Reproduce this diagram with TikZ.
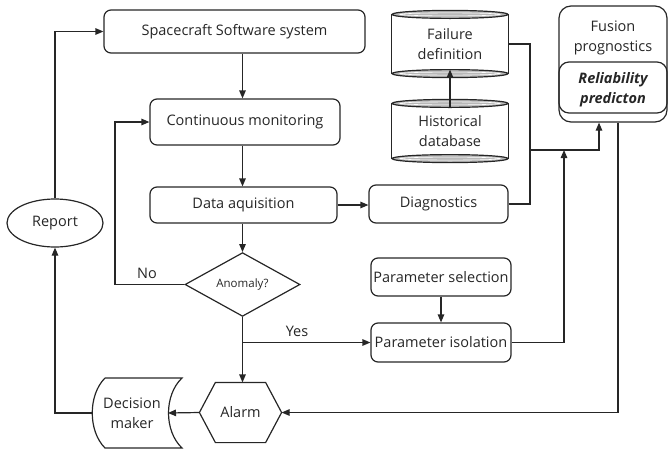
\documentclass[tikz,border=0pt]{standalone}
\usepackage{fontspec}
\setmainfont{Open Sans}
\usetikzlibrary{arrows.meta,shapes.geometric}
\newcommand\drumdeco[1]{%
  \draw (#1.north west) -- (#1.south west);
  \draw (#1.north east) -- (#1.south east);
  \draw[fill=gray!55] (#1.north) ellipse [x radius=58, y radius=4];
  \draw[white, line width=0.6pt] (#1.north) ellipse [x radius=50, y radius=1.5];
  \draw[fill=gray!55] (#1.south) ellipse [x radius=58, y radius=4];
  \draw[white, line width=0.6pt] (#1.south) ellipse [x radius=50, y radius=1.5];
}
\begin{document}
\begin{tikzpicture}[x=1pt,y=-1pt,
  line width=1.2pt, color=black!85,
  txt/.style={font=\fontsize{14.5}{20}\selectfont, align=center},
  box/.style={txt, draw, rounded corners=7pt, inner sep=0pt},
  arr/.style={-{Triangle[length=8pt,width=6.5pt]}}]
\useasboundingbox (0,0) rectangle (668,450);
% nodes
\node[box, minimum width=261pt, minimum height=43pt] (ss) at (234.5,31.5) {Spacecraft Software system};
\node[box, minimum width=190pt, minimum height=46pt] (cm) at (245,122) {Continuous monitoring};
\node[box, minimum width=187pt, minimum height=36pt] (da) at (243.5,205) {Data aquisition};
\node[txt, draw, diamond, inner sep=0pt, minimum width=115pt, minimum height=47pt, font=\fontsize{11.5}{13}\selectfont] (an) at (242.5,284.5) {Anomaly?};
\node[txt, draw=none, minimum width=81pt, minimum height=59pt, inner sep=0pt] (al) at (240.5,412.5) {Alarm};
\draw (al.west) -- ([xshift=16pt]al.north west) -- ([xshift=-16pt]al.north east) -- (al.east)
  -- ([xshift=-16pt]al.south east) -- ([xshift=16pt]al.south west) -- cycle;
\node[txt] (dm) at (132,413) {Decision\\maker};
\draw (105,378) -- (182,378) .. controls (164,395) and (164,431) .. (182,448) -- (105,448)
  .. controls (88,431) and (88,395) .. (105,378);
\coordinate (dmr) at (168,413);
\coordinate (dml) at (92,413);
\node[txt, draw, ellipse, minimum width=96pt, minimum height=48pt, inner sep=0pt] (rp) at (55,223) {Report};
\node[box, minimum width=139pt, minimum height=38pt] (dg) at (438.5,204) {Diagnostics};
\node[box, minimum width=140pt, minimum height=38pt] (ps) at (441,277) {Parameter selection};
\node[box, minimum width=140pt, minimum height=39pt] (pi) at (441,342.5) {Parameter isolation};
\node[txt, minimum width=116pt, minimum height=58pt, inner sep=0pt] (fd) at (450,44) {Failure\\definition};
\drumdeco{fd}
\node[txt, minimum width=116pt, minimum height=54pt, inner sep=0pt] (hd) at (450,131) {Historical\\database};
\drumdeco{hd}
\node[draw, rounded corners=12pt, minimum width=108pt, minimum height=116pt, inner sep=0pt] (fp) at (613,64) {};
\node[draw, rounded corners=10pt, minimum width=108pt, minimum height=51pt, inner sep=0pt] (rl) at (613,87.5) {};
\node[txt] (fpt) at (613,37.5) {Fusion\\prognostics};
\node[txt, font=\fontsize{14.5}{20}\selectfont\bfseries\itshape] (rlt) at (613,89.5) {Reliability\\predicton};
% coordinates
\coordinate (nox) at (115,0);
\coordinate (j) at (530,150);
\coordinate (j2) at (564,150);
\coordinate (fin) at (599,0);
\coordinate (fout) at (618,0);
% connectors
\draw[arr] (an |- ss.south) -- (an |- cm.north);
\draw[arr] (an |- cm.south) -- (an |- da.north);
\draw[arr] (an |- da.south) -- (an.north);
\draw[arr] (an.west) -- (an.west -| nox) |- (cm.west);
\node[txt] (no) at (147,273) {No};
\draw[arr] (an.south) -- (an |- al.north);
\draw[arr] (an |- pi.west) -- (pi.west);
\node[txt] (yes) at (297,331) {Yes};
\draw[arr] (da.east) -- (da.east -| dg.west);
\draw (fd.east) -| (j);
\draw (dg.east) -| (j);
\draw[arr] (j) -| (fin |- fp.south);
\draw[arr] (pi.east) -| (j2);
\draw[arr] (ps.south) -- (pi.north);
\draw[arr] ([yshift=-4pt]hd.north) -- ([yshift=4pt]fd.south);
\draw[arr] (fout |- fp.south) |- (al.east);
\draw[arr] (al.west) -- (dmr);
\draw[arr] (dml) -| (rp.south);
\draw[arr] (rp.north) |- (ss.west);
\end{tikzpicture}
\end{document}
